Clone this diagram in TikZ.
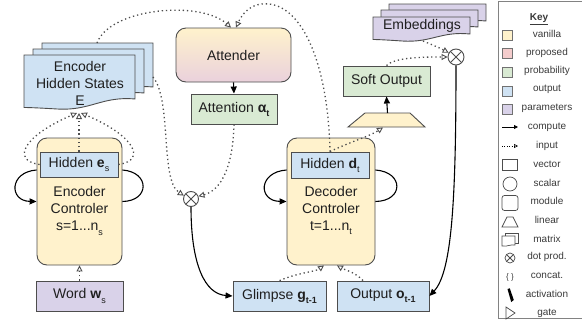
\documentclass[tikz,border=0pt]{standalone}
\usepackage{fontspec}
\setmainfont{Liberation Sans}
\usetikzlibrary{arrows.meta,shapes.geometric,calc}
\definecolor{vanilla}{HTML}{FFF2CC}
\definecolor{proposed}{HTML}{F4CCCC}
\definecolor{prob}{HTML}{D9EAD3}
\definecolor{outp}{HTML}{CFE2F3}
\definecolor{param}{HTML}{D9D2E9}
\definecolor{attbot}{HTML}{EAD1DC}
\definecolor{bord}{HTML}{4D4D4D}
\definecolor{txt}{HTML}{1F1F1F}
\definecolor{keytxt}{HTML}{3A3A3A}
\newcommand\mysub[1]{\raisebox{-0.55ex}{\fontsize{9}{9}\selectfont #1}}
\newcommand\mydoc[6]{%
  \filldraw[draw=bord, line width=0.9pt, fill=#1] (#2,#3) -- (#4,#3) -- (#4,{#5-#6})
   .. controls ({#4-0.3*(#4-#2)},{#5-#6-3}) and ({#2+0.6*(#4-#2)},{#5+2}) .. ({#2+0.3*(#4-#2)},{#5})
   .. controls ({#2+0.15*(#4-#2)},{#5-1}) and ({#2+0.05*(#4-#2)},{#5-1.5}) .. (#2,{#5-1.5}) -- cycle;}
\begin{document}
\begin{tikzpicture}[x=1pt,y=-1pt, font=\fontsize{14}{17}\selectfont, text=txt,
  boxbase/.style={draw=bord, line width=0.9pt, inner sep=0pt, align=center},
  vecbox/.style={boxbase, rectangle},
  modbox/.style={boxbase, rounded corners=10pt},
  dotln/.style={line width=1.3pt, dash pattern=on 1.3pt off 2.9pt, bord,
     -{Triangle[open,length=6pt,width=6pt,line width=0.9pt]}},
  solarrow/.style={line width=1.1pt, black, -{Triangle[length=7pt,width=6pt]}},
  solline/.style={line width=1.1pt, black},
  dotprod/.style={circle, draw=bord, line width=0.9pt, minimum size=#1, inner sep=0pt, fill=white,
     path picture={\draw[bord, line width=0.9pt] (path picture bounding box.center) +(45:#1/2) -- +(225:#1/2)
        (path picture bounding box.center) +(135:#1/2) -- +(-45:#1/2);}},
  keytext/.style={font=\fontsize{10}{12}\selectfont, text=keytxt},
  keyicon/.style={draw=bord, line width=0.7pt}
]
\useasboundingbox (0,0) rectangle (582,322);

% ---------- Encoder hidden states (stacked documents)
\mydoc{outp}{42}{43}{153}{97}{10}
\mydoc{outp}{33}{49}{144}{103}{10}
\mydoc{outp}{24}{55}{135}{109}{10}
\node[align=center] (encstates) at (80,83) {Encoder\\Hidden States\\E};
\coordinate (Ebot) at (79,113);
\coordinate (Eright) at (153,77);
\coordinate (Etop) at (97,43);

% ---------- Embeddings
\mydoc{param}{389}{4}{486}{28}{7}
\mydoc{param}{381}{10}{478}{34}{7}
\mydoc{param}{373}{17}{470}{41}{7}
\node (emb) at (422,26) {Embeddings};
\coordinate (Embbot) at (423,41);

% ---------- Encoder
\node[modbox, fill=vanilla, minimum width=85, minimum height=127] (encctrl) at (79.5,201.5) {};
\node[vecbox, fill=outp, minimum width=78, minimum height=25] (enchid) at (79,164.5) {Hidden \textbf{e}\mysub{s}};
\node[align=center] (enctext) at (79.5,211) {Encoder\\Controler\\s=1...n\mysub{s}};
\node[vecbox, fill=param, minimum width=87, minimum height=30] (word) at (79.5,296) {Word \textbf{w}\mysub{s}};

% ---------- Attender
\node[modbox, top color=vanilla, bottom color=attbot, minimum width=115, minimum height=54] (attender) at (233.5,55) {Attender};
\node[vecbox, fill=prob, minimum width=86, minimum height=30] (attention) at (234,109) {Attention \textbf{α}\mysub{\textbf{t}}};

% ---------- Decoder
\node[modbox, fill=vanilla, minimum width=88, minimum height=127] (decctrl) at (331,201.5) {};
\node[vecbox, fill=outp, minimum width=78, minimum height=26] (dechid) at (330,165) {Hidden \textbf{d}\mysub{t}};
\node[align=center] (dectext) at (331,210) {Decoder\\Controler\\t=1...n\mysub{t}};
\node[vecbox, fill=outp, minimum width=93, minimum height=30] (glimpse) at (279.5,296) {Glimpse \textbf{g}\mysub{\textbf{t-1}}};
\node[vecbox, fill=outp, minimum width=92, minimum height=30] (output) at (383,296) {Output \textbf{o}\mysub{\textbf{t-1}}};
% linear layer (trapezoid)
\filldraw[draw=bord, line width=0.9pt, fill=vanilla] (348,127) -- (365,113) -- (410,113) -- (425,127) -- cycle;
\coordinate (lintop) at (387.5,113);
\coordinate (linin) at (383,127.5);
\node[vecbox, fill=prob, minimum width=87, minimum height=30] (softout) at (386.5,81) {Soft Output};

\node[dotprod=15pt] (dp1) at (191,199) {};
\node[dotprod=16pt] (dp2) at (456,57) {};

% ---------- connectors
\draw[dotln] (enchid.north) -- (Ebot);
\draw[dotln] (enchid.west) .. controls (10,160) and (25,135) .. ([xshift=-2pt]Ebot);
\draw[dotln] (enchid.east) .. controls (148,160) and (133,135) .. ([xshift=2pt]Ebot);
\draw[dotln] (word.north) -- (encctrl.south);
\draw[solarrow] ([yshift=31.5pt]encctrl.west) .. controls (9,172) and (9,201) .. (encctrl.west);
\draw[solline] ([yshift=31.5pt]encctrl.east) .. controls (150,172) and (150,201) .. (encctrl.east);

\draw[solarrow] (attender.south) -- (attention.north);
\draw[dotln] (Eright) .. controls (172,100) and (160,180) .. (dp1.155);
\draw[dotln] (attention.south) .. controls (233,165) and (222,190) .. (dp1.20);
\draw[solarrow] (dp1.south) .. controls (191,265) and (205,294) .. (glimpse.west);

\draw[dotln] (Etop) .. controls (110,8) and (200,0) .. ([xshift=-2.5pt]attender.north);
\draw[dotln] (dechid.north) .. controls (328,60) and (300,0) .. (262,4) .. controls (250,5) and (242,14) .. ([xshift=2.5pt]attender.north);
\draw[dotln] (dechid.north) .. controls (350,142) and (370,136) .. (linin);
\draw[solarrow] (lintop) -- (softout.south);

\draw[dotln] (glimpse.north) .. controls (300,272) and (315,272) .. ([xshift=-7pt]decctrl.south);
\draw[dotln] ([xshift=-20pt]output.north) .. controls (355,272) and (345,270) .. ([xshift=6pt]decctrl.south);
\draw[solarrow] ([yshift=31.5pt]decctrl.west) .. controls (258,172) and (258,201) .. (decctrl.west);
\draw[solline] ([yshift=31.5pt]decctrl.east) .. controls (404,172) and (404,201) .. (decctrl.east);

\draw[dotln] (Embbot) .. controls (430,44) and (438,47) .. (dp2.150);
\draw[dotln] (softout.north) .. controls (395,57) and (425,57) .. (dp2.west);
\draw[solarrow] (dp2.south) .. controls (456,200) and (452,272) .. (output.east);

% ---------- Key
\draw[draw=bord!70, line width=0.8pt] (498.5,1.5) rectangle (590,318.5);
\node[font=\bfseries\fontsize{10}{12}\selectfont, text=keytxt] (keytitle) at (539,19) {\underline{Key}};
\foreach \name/\col [count=\i from 0] in {vanilla/vanilla, proposed/proposed, probability/prob, output/outp, parameters/param}{
  \node[draw=bord!80, line width=0.6pt, fill=\col, minimum size=10pt, inner sep=0pt] (sw\i) at (507,{35+18.6*\i}) {};
  \node[keytext] (kt\i) at (547,{34+18.6*\i}) {\name};
}
\foreach \name [count=\i from 5] in {compute, input, vector, scalar, module, linear, matrix, dot prod., concat., activation, gate}{
  \node[keytext] (kt\i) at (547,{34+18.6*\i}) {\name};
}
% icons
\coordinate (ca) at (502,127); \coordinate (cb) at (518,127);
\draw[line width=0.8pt, -{Triangle[length=4pt,width=4pt]}] (ca) -- (cb);
\coordinate (ia) at (502,146); \coordinate (ib) at (518,146);
\draw[line width=0.6pt, dash pattern=on 0.8pt off 1.6pt, -{Triangle[open,length=4pt,width=4pt,line width=0.6pt]}] (ia) -- (ib);
\node[keyicon, minimum width=15pt, minimum height=11pt, inner sep=0pt] (ivec) at (510,165) {};
\node[keyicon, circle, minimum size=14pt, inner sep=0pt] (isca) at (510,184) {};
\node[keyicon, rounded corners=2.5pt, minimum width=16pt, minimum height=15pt, inner sep=0pt] (imod) at (510,203) {};
\draw[keyicon] (502,227) -- (507,217) -- (513,217) -- (518,227) -- cycle;
\filldraw[keyicon, fill=white] (505,233) -- (518,233) -- (518,243) -- (505,243) -- cycle;
\filldraw[keyicon, fill=white] (502,236) -- (515,236) -- (515,245) .. controls (511,244) and (507,247) .. (502,246) -- cycle;
\node[dotprod=10pt, draw=bord, line width=0.7pt] (idot) at (510,258) {};
\node[keytext, font=\fontsize{8}{10}\selectfont] (icat) at (510,277) {\{ \}};
\fill[black] (507.5,289) -- (509.8,288.3) -- (513.8,300) -- (511.2,302) -- cycle;
\draw[keyicon] (506,307) -- (515,313) -- (506,319) -- cycle;
\end{tikzpicture}
\end{document}
